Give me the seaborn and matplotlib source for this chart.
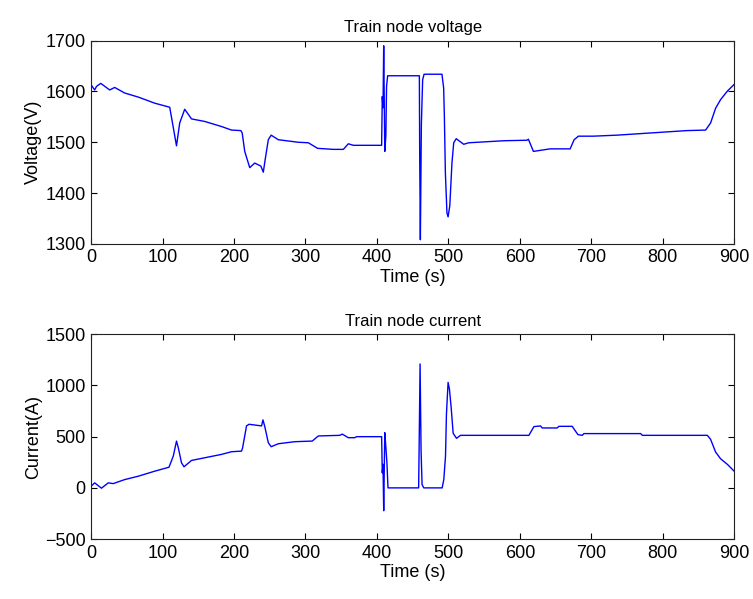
import matplotlib
matplotlib.use('Agg')
import matplotlib.pyplot as plt
import seaborn as sns
import pandas as pd

# Train node voltage (V) over time (s)
volt_t = [0, 5, 7.5, 13.5, 26, 33, 47, 66, 89, 110, 112, 115, 119.5, 124, 131,
          140.5, 159, 182.5, 196.5, 209.6, 211.5, 215, 222, 229, 237.6, 241, 243.5,
          248, 252, 262, 290, 304, 317, 339, 353, 360, 367, 406.6, 407.5, 408.5,
          409.5, 411, 412.5, 413.5, 415, 459.4, 459.9, 460.8, 462.2, 464, 466, 491,
          493.4, 494.4, 495.8, 498, 499.6, 502, 505, 507.5, 511, 521.5, 528.6, 577.6,
          610, 612, 619, 642.4, 670.4, 676, 682, 703, 736, 768.7, 801.4, 834, 860,
          867, 874, 881, 890.6, 900]
volt = [1613, 1603, 1610, 1616, 1603, 1608, 1597, 1589, 1577, 1569, 1553, 1529, 1493,
        1538, 1565, 1546, 1541, 1531, 1524, 1523, 1518, 1482, 1450, 1459, 1453, 1441,
        1465, 1505, 1514, 1505, 1500, 1499, 1488, 1486, 1486, 1497, 1494, 1494, 1590,
        1568, 1690, 1482, 1512, 1610, 1631, 1631, 1469, 1308, 1535, 1623, 1634, 1634,
        1607, 1551, 1440, 1361, 1353, 1375, 1459, 1499, 1507, 1496, 1499, 1503, 1504,
        1506, 1482, 1487, 1487, 1505, 1512, 1512, 1514, 1517, 1520, 1523, 1524, 1538,
        1567, 1584, 1601, 1614]

# Train node current (A) over time (s)
curr_t = [0, 5, 14.5, 24, 31, 47, 66, 89, 109, 115, 119.5, 122, 126.5, 130, 140.5,
          159, 182.5, 196.5, 210.5, 212, 217.5, 221, 238.6, 240.5, 243, 248, 252, 262,
          285, 309.5, 318, 348, 351.5, 360, 369, 371.6, 406.6, 407.5, 408.5, 409.5,
          411, 412.5, 414, 415.5, 458.4, 459.4, 460.4, 461.8, 463.2, 465.6, 491.3,
          493.6, 496, 497.3, 499.6, 501.5, 503.9, 506.7, 511.4, 517, 612.7, 619.7, 629,
          631.3, 652.3, 654.7, 673.3, 681.3, 687.4, 689.7, 769, 771.5, 862.5, 867, 874,
          881, 890.6, 900]
curr = [16, 49, -3, 49, 42, 81, 114, 163, 202, 310, 457, 392, 245, 206, 268, 294, 327,
        353, 359, 390, 605, 621, 605, 664, 600, 441, 402, 431, 451, 457, 507, 513, 525,
        490, 490, 500, 500, 147, 230, -223, 539, 400, 245, 0, 0, 588, 1210, 359, 32, 0,
        0, 81, 310, 719, 1030, 964, 785, 533, 484, 513, 513, 598, 605, 585, 585, 601,
        601, 520, 513, 530, 530, 513, 513, 474, 350, 284, 229, 163]

volt_df = pd.DataFrame({'t': volt_t, 'v': volt})
curr_df = pd.DataFrame({'t': curr_t, 'i': curr})

sns.set_style('ticks')
plt.rcParams['font.family'] = ['Liberation Sans', 'DejaVu Sans']
plt.rcParams['font.size'] = 13
plt.rcParams['text.color'] = 'black'
plt.rcParams['axes.labelcolor'] = 'black'
plt.rcParams['xtick.color'] = 'black'
plt.rcParams['ytick.color'] = 'black'

fig = plt.figure(figsize=(7.53, 5.99), dpi=100)
ax1 = fig.add_axes([0.121, 0.593, 0.854, 0.339])
ax2 = fig.add_axes([0.121, 0.100, 0.854, 0.342])

sns.lineplot(data=volt_df, x='t', y='v', ax=ax1, color='#0000ff', linewidth=1.0,
             estimator=None, sort=False)
sns.lineplot(data=curr_df, x='t', y='i', ax=ax2, color='#0000ff', linewidth=1.0,
             estimator=None, sort=False)

ax1.set_ylim(1300, 1700)
ax1.set_yticks([1300, 1400, 1500, 1600, 1700])
ax1.set_ylabel('Voltage(V)', labelpad=2)
ax1.set_title('Train node voltage', fontsize=12, pad=6)

ax2.set_ylim(-500, 1500)
ax2.set_yticks([-500, 0, 500, 1000, 1500])
ax2.set_ylabel('Current(A)', labelpad=2)
ax2.set_title('Train node current', fontsize=12, pad=6)

for ax in (ax1, ax2):
    ax.set_xlim(0, 900)
    ax.set_xticks(range(0, 901, 100))
    ax.set_xlabel('Time (s)', labelpad=2)
    ax.tick_params(direction='in', top=True, right=True, length=4.5, width=0.8,
                   labelsize=13, pad=4, colors='black')
    for s in ax.spines.values():
        s.set_visible(True)
        s.set_linewidth(0.8)
        s.set_color('#222222')

fig.savefig('out.png', dpi=100)
